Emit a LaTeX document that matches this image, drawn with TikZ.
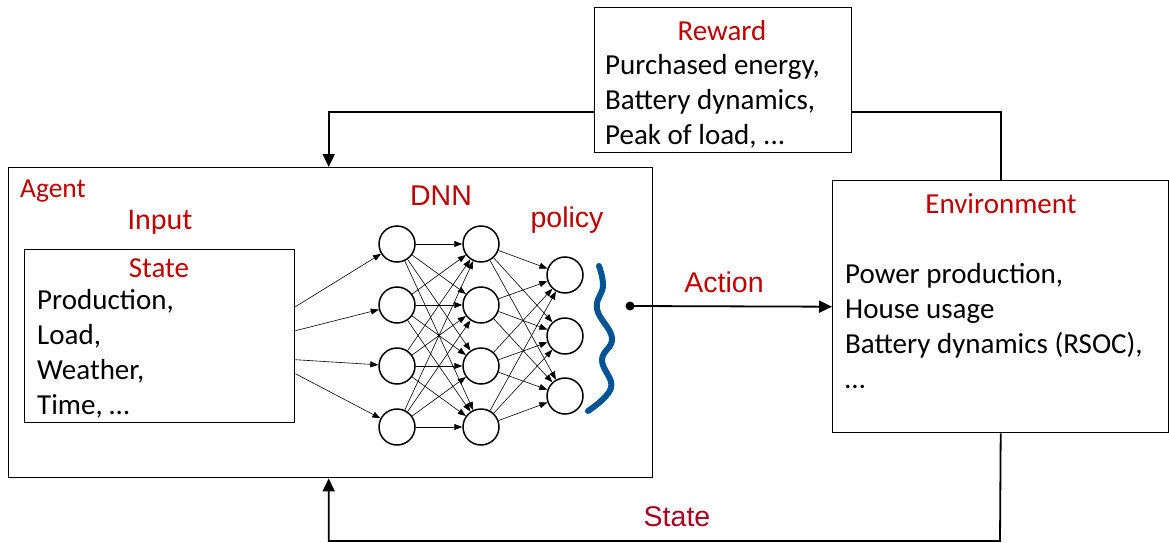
\documentclass[tikz,border=0pt]{standalone}
\usepackage{fontspec}
\setmainfont{Carlito}
\newfontfamily\arialf{Liberation Sans}
\usetikzlibrary{arrows.meta}
\definecolor{lblred}{RGB}{192,0,0}
\definecolor{statered}{RGB}{165,0,33}
\definecolor{wave}{RGB}{0,84,147}
\tikzset{
  box/.style={draw, line width=1.4pt, inner sep=0pt, anchor=north west},
  conn/.style={line width=1.8pt, -{Triangle[length=13pt,width=12pt]}},
  wire/.style={line width=1.8pt},
  neuron/.style={draw, circle, line width=1.5pt, minimum size=36pt, inner sep=0pt},
  syn/.style={line width=0.6pt, -{Triangle[length=8pt,width=6pt]}},
  body/.style={font=\fontsize{29}{35}\selectfont, align=left, inner sep=0pt},
  ctitle/.style={text=lblred, font=\fontsize{29}{34}\selectfont, inner sep=0pt},
  atitle/.style={text=lblred, font=\arialf\fontsize{28.5}{34}\selectfont, inner sep=0pt}
}
\begin{document}
\begin{tikzpicture}[x=1pt, y=-1pt]
\useasboundingbox (0,0) rectangle (1169,543);

% boxes
\node[box, minimum width=257pt, minimum height=145pt] (reward) at (594,7) {};
\node[box, minimum width=644pt, minimum height=310pt] (agent) at (8,167) {};
\node[box, minimum width=336pt, minimum height=252pt] (env) at (832,180) {};
\node[box, minimum width=270pt, minimum height=173pt] (sbox) at (24,249) {};

% reward box text
\node[ctitle] (rwt) at (722,31) {Reward};
\node[body, anchor=west] (rwtext) at (605,101) {Purchased energy,\\Battery dynamics,\\Peak of load, ...};

% agent labels
\node[ctitle, font=\fontsize{27.5}{32}\selectfont] (agt) at (53,191) {Agent};
\node[ctitle, font=\fontsize{30}{36}\selectfont] (inp) at (160,222) {Input};
\node[atitle] (dnn) at (441,196) {DNN};
\node[atitle] (pol) at (567,220) {policy};

% state box text
\node[ctitle] (stt) at (159,268) {State};
\node[body, anchor=west] (sttext) at (37,354) {Production,\\Load,\\Weather,\\Time, \dots};

% environment text
\node[ctitle] (envt) at (1001,204) {Environment};
\node[body, anchor=west] (envtext) at (845,326) {Power production,\\House usage\\Battery dynamics (RSOC),\\\dots};

% network layers
\foreach \i/\y in {1/244,2/305,3/366,4/427} {
  \node[neuron] (a\i) at (397,\y) {};
  \node[neuron] (b\i) at (481,\y) {};
}
\foreach \i/\y in {1/275,2/336,3/396} {
  \node[neuron] (c\i) at (565,\y) {};
}
\draw[syn] ([yshift=29.5pt]sbox.east) -- (a1);
\draw[syn] ([yshift=5.5pt]sbox.east) -- (a2);
\draw[syn] ([yshift=-23.5pt]sbox.east) -- (a3);
\draw[syn] ([yshift=-37.5pt]sbox.east) -- (a4);
\foreach \i in {1,...,4} {
  \foreach \j in {1,...,4} { \draw[syn] (a\i) -- (b\j); }
  \foreach \j in {1,...,3} { \draw[syn] (b\i) -- (c\j); }
}

% policy output brace
\draw[wave, line width=6pt, line cap=round]
  plot[smooth, tension=0.7] coordinates {(599,266) (603,286) (597,309) (612,338) (602,360) (611,388) (588,411)};

% action
\coordinate (act) at (630,306);
\fill (act) circle (4.5pt);
\draw[conn] (act) -- (env.west);
\node[atitle] (actl) at (724,282) {Action};

% reward feedback
\draw[conn] ([yshift=-31.5pt]reward.west) -| ([xshift=-2pt]agent.north);
\draw[wire] (env.north) |- ([yshift=-31.5pt]reward.east);

% state feedback
\coordinate (sturn) at (1000,541);
\draw[conn] (env.south) -- (sturn) -| ([xshift=-2pt]agent.south);
\node[atitle, text=statered] (stl) at (677,517) {State};
\end{tikzpicture}
\end{document}
